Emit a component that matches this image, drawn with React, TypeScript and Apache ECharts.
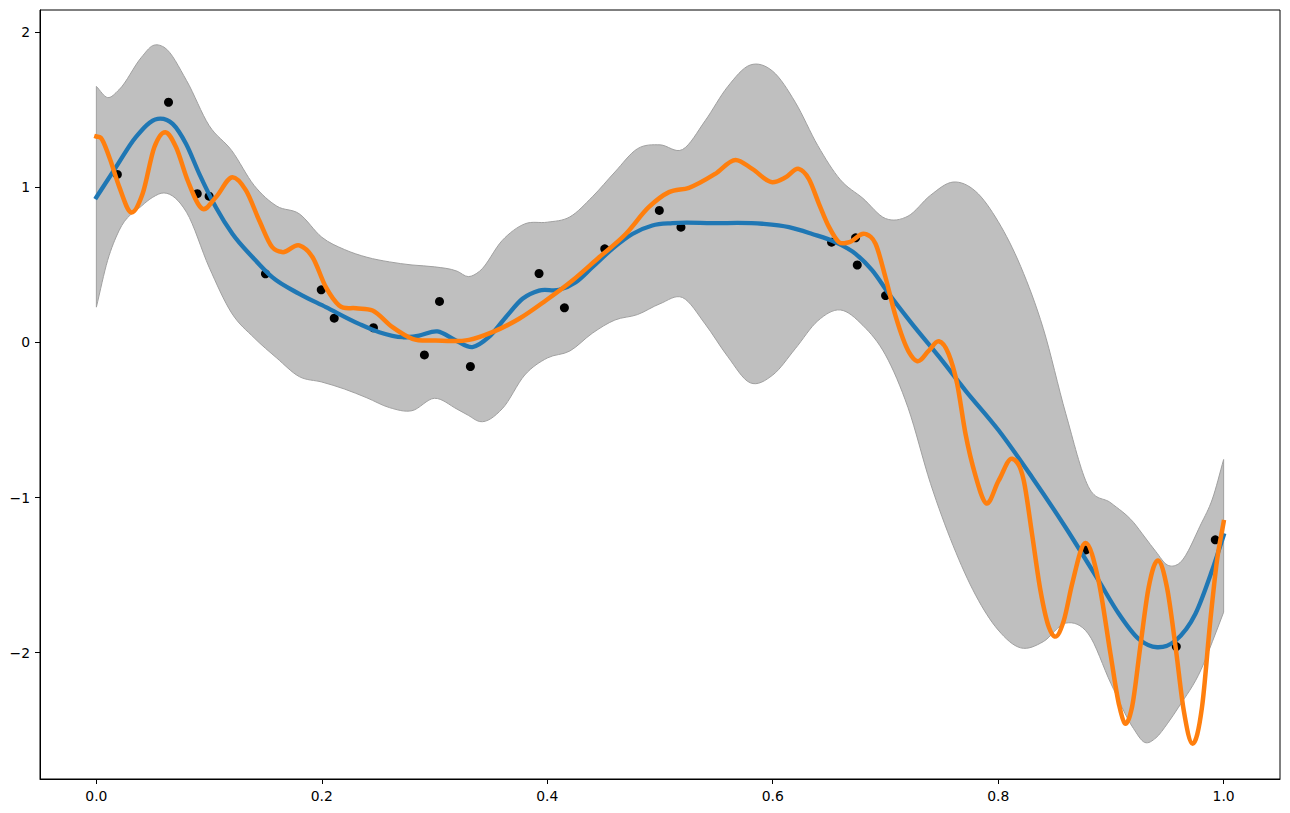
import { useEffect, useRef } from "react";
import * as echarts from "echarts";

// Confidence band sampled on a shared x grid
const bandX = [
  0, 0.01, 0.02, 0.04, 0.05, 0.06, 0.08, 0.1, 0.12, 0.14, 0.16, 0.18, 0.2, 0.22, 0.24, 0.26,
  0.28, 0.3, 0.32, 0.33, 0.34, 0.36, 0.38, 0.4, 0.42, 0.44, 0.46, 0.48, 0.5, 0.52, 0.54, 0.56,
  0.58, 0.6, 0.62, 0.64, 0.66, 0.68, 0.7, 0.72, 0.74, 0.76, 0.78, 0.8, 0.82, 0.84, 0.86, 0.88,
  0.9, 0.92, 0.93, 0.94, 0.95, 0.96, 0.98, 0.99, 1.0,
];
const bandUpper = [
  1.652, 1.58, 1.63, 1.84, 1.915, 1.905, 1.69, 1.4, 1.239, 1.013, 0.88, 0.83, 0.679, 0.6, 0.55, 0.52,
  0.5, 0.488, 0.46, 0.425, 0.46, 0.658, 0.765, 0.776, 0.81, 0.94, 1.1, 1.25, 1.275, 1.245, 1.43, 1.65,
  1.79, 1.75, 1.55, 1.27, 1.05, 0.93, 0.8, 0.815, 0.95, 1.035, 0.975, 0.78, 0.49, 0.09, -0.46, -0.93,
  -1.035, -1.16, -1.255, -1.35, -1.435, -1.428, -1.17, -1.01, -0.755,
];
const bandLower = [
  0.228, 0.53, 0.72, 0.88, 0.937, 0.965, 0.84, 0.486, 0.19, 0.03, -0.1, -0.22, -0.255, -0.3, -0.357, -0.42,
  -0.44, -0.36, -0.43, -0.47, -0.51, -0.428, -0.21, -0.1, -0.055, 0.06, 0.145, 0.18, 0.25, 0.29, 0.12, -0.09,
  -0.26, -0.21, -0.04, 0.14, 0.21, 0.11, -0.08, -0.42, -0.91, -1.31, -1.63, -1.855, -1.97, -1.93, -1.81, -1.88,
  -2.2, -2.49, -2.58, -2.55, -2.46, -2.353, -2.11, -1.93, -1.74,
];

// Posterior mean
const meanX = [
  0, 0.0174, 0.035, 0.0544, 0.0677, 0.0795, 0.0913, 0.106, 0.1208, 0.1386, 0.156, 0.18, 0.2036, 0.233,
  0.251, 0.2715, 0.2863, 0.3026, 0.3189, 0.3336, 0.348, 0.3632, 0.378, 0.3927, 0.4105, 0.4253, 0.44,
  0.4577, 0.4755, 0.4932, 0.511, 0.5464, 0.5907, 0.6144, 0.635, 0.6557, 0.6735, 0.6883, 0.703, 0.7236,
  0.7473, 0.771, 0.8005, 0.83, 0.8597, 0.889, 0.907, 0.9246, 0.941, 0.9573, 0.975, 0.9897, 1.0,
];
const meanY = [
  0.937, 1.131, 1.325, 1.443, 1.41, 1.282, 1.088, 0.873, 0.7, 0.55, 0.421, 0.314, 0.228, 0.12,
  0.066, 0.034, 0.045, 0.071, 0.013, -0.03, 0.034, 0.163, 0.282, 0.335, 0.34, 0.389, 0.486,
  0.604, 0.7, 0.755, 0.77, 0.77, 0.766, 0.744, 0.7, 0.647, 0.572, 0.465, 0.314, 0.12,
  -0.09, -0.31, -0.568, -0.869, -1.192, -1.535, -1.75, -1.912, -1.966, -1.923, -1.75, -1.471, -1.245,
];

// Posterior sample
const sampleX = [
  0, 0.004, 0.0115, 0.0204, 0.0307, 0.041, 0.0514, 0.0612, 0.0707, 0.081, 0.0942, 0.106, 0.1208,
  0.1327, 0.1445, 0.156, 0.165, 0.18, 0.1918, 0.2036, 0.2154, 0.2302, 0.245, 0.2627, 0.2804, 0.301,
  0.3306, 0.3513, 0.375, 0.3987, 0.4223, 0.446, 0.4696, 0.49, 0.508, 0.5257, 0.549, 0.567, 0.5818,
  0.5996, 0.6115, 0.623, 0.632, 0.641, 0.65, 0.6588, 0.6676, 0.6823, 0.6912, 0.7, 0.709, 0.7207,
  0.728, 0.7385, 0.7473, 0.756, 0.7636, 0.771, 0.7799, 0.7893, 0.8005, 0.8124, 0.8227, 0.83, 0.8375,
  0.845, 0.8502, 0.8582, 0.8656, 0.8774, 0.889, 0.8996, 0.907, 0.9122, 0.9187, 0.926, 0.9335, 0.9418,
  0.9497, 0.9574, 0.9646, 0.9725, 0.9808, 0.9882, 0.9941, 1.0,
];
const sampleY = [
  1.329, 1.32, 1.195, 1.002, 0.84, 0.959, 1.26, 1.357, 1.26, 1.045, 0.862, 0.937, 1.066,
  0.981, 0.787, 0.615, 0.583, 0.626, 0.55, 0.357, 0.239, 0.221, 0.206, 0.099, 0.024, 0.013,
  0.017, 0.067, 0.153, 0.271, 0.4, 0.55, 0.7, 0.873, 0.97, 0.998, 1.088, 1.178, 1.12,
  1.034, 1.066, 1.12, 1.056, 0.895, 0.744, 0.647, 0.647, 0.7, 0.637, 0.421, 0.17, -0.06,
  -0.12, -0.052, 0.008, -0.073, -0.266, -0.589, -0.86, -1.037, -0.89, -0.75, -0.89, -1.234, -1.6,
  -1.837, -1.897, -1.794, -1.557, -1.293, -1.535, -2.008, -2.33, -2.456, -2.353, -1.966, -1.579, -1.406,
  -1.579, -1.966, -2.374, -2.589, -2.353, -1.794, -1.406, -1.159,
];

// Observed points
const obsX = [
  0.0186, 0.064, 0.0895, 0.1, 0.15, 0.1995, 0.211, 0.2458, 0.291, 0.3044, 0.3318, 0.3927,
  0.4152, 0.451, 0.4994, 0.5186, 0.6522, 0.6735, 0.675, 0.7001, 0.8777, 0.958, 0.9926,
];
const obsY = [
  1.084, 1.55, 0.96, 0.944, 0.443, 0.34, 0.157, 0.095, -0.08, 0.265, -0.155, 0.445,
  0.224, 0.604, 0.852, 0.744, 0.647, 0.675, 0.5, 0.303, -1.338, -1.962, -1.273,
];

const xTicks = [0, 0.2, 0.4, 0.6, 0.8, 1.0];
const yTicks = [-2, -1, 0, 1, 2];

const FONT = "DejaVu Sans";

type Pt = [number, number];

// Cubic Hermite segments through pixel points (x-ordered, either direction),
// with three-point tangents so uneven spacing stays smooth.
function hermiteSegments(p: Pt[]): string {
  const n = p.length;
  const m: number[] = new Array(n);
  const slope = (i: number) => (p[i + 1][1] - p[i][1]) / (p[i + 1][0] - p[i][0]);
  for (let i = 0; i < n; i++) {
    if (i === 0) m[i] = slope(0);
    else if (i === n - 1) m[i] = slope(n - 2);
    else {
      const h0 = p[i][0] - p[i - 1][0];
      const h1 = p[i + 1][0] - p[i][0];
      m[i] = (slope(i - 1) * h1 + slope(i) * h0) / (h0 + h1);
    }
  }
  let d = "";
  for (let i = 0; i < n - 1; i++) {
    const h = p[i + 1][0] - p[i][0];
    const c1x = p[i][0] + h / 3;
    const c1y = p[i][1] + (m[i] * h) / 3;
    const c2x = p[i + 1][0] - h / 3;
    const c2y = p[i + 1][1] - (m[i + 1] * h) / 3;
    d += ` C${c1x},${c1y} ${c2x},${c2y} ${p[i + 1][0]},${p[i + 1][1]}`;
  }
  return d;
}

function curvePath(p: Pt[]): string {
  return `M${p[0][0]},${p[0][1]}` + hermiteSegments(p);
}

function bandPath(up: Pt[], low: Pt[]): string {
  const rev = low.slice().reverse();
  return (
    `M${up[0][0]},${up[0][1]}` +
    hermiteSegments(up) +
    ` L${rev[0][0]},${rev[0][1]}` +
    hermiteSegments(rev) +
    " Z"
  );
}

export default function App() {
  const ref = useRef<HTMLDivElement>(null);

  useEffect(() => {
    const chart = echarts.init(ref.current!, null, { renderer: "svg" });
    const axisText = { color: "#000", fontSize: 13.9, fontFamily: FONT };

    const toPx = (api: any, xs: number[], ys: number[]): Pt[] =>
      xs.map((x, i) => api.coord([x, ys[i]]) as Pt);

    const curveSeries = (name: string, xs: number[], ys: number[], color: string, width: number, z: number) => ({
      name,
      type: "custom",
      z,
      silent: true,
      clip: true,
      data: [[xs[0], ys[0]]],
      renderItem: (_params: any, api: any) => ({
        type: "path",
        shape: { pathData: curvePath(toPx(api, xs, ys)) },
        style: { fill: "none", stroke: color, lineWidth: width, lineCap: "square", lineJoin: "round" },
      }),
    });

    chart.setOption({
      animation: false,
      backgroundColor: "#fff",
      grid: {
        left: 40,
        top: 10,
        width: 1240,
        height: 769,
        show: true,
        z: 10,
        borderColor: "#000",
        borderWidth: 1,
        backgroundColor: "transparent",
      },
      xAxis: {
        type: "value",
        min: -0.05,
        max: 1.05,
        z: 10,
        axisLine: { show: true, onZero: false, lineStyle: { color: "#000", width: 1 } },
        axisTick: { show: true, customValues: xTicks, length: 5, lineStyle: { color: "#000", width: 1 } },
        axisLabel: {
          ...axisText,
          customValues: xTicks,
          margin: 10,
          formatter: (v: number) => v.toFixed(1),
        },
        splitLine: { show: false },
      },
      yAxis: {
        type: "value",
        min: -2.816,
        max: 2.145,
        z: 10,
        axisLine: { show: true, onZero: false, lineStyle: { color: "#000", width: 1 } },
        axisTick: { show: true, customValues: yTicks, length: 5, lineStyle: { color: "#000", width: 1 } },
        axisLabel: {
          ...axisText,
          customValues: yTicks,
          margin: 10,
          formatter: (v: number) => (v < 0 ? "\u2212" + Math.abs(v) : String(v)),
        },
        splitLine: { show: false },
      },
      series: [
        {
          name: "band",
          type: "custom",
          z: 1,
          silent: true,
          clip: true,
          data: [[bandX[0], bandUpper[0]]],
          renderItem: (_params: any, api: any) => ({
            type: "path",
            shape: { pathData: bandPath(toPx(api, bandX, bandUpper), toPx(api, bandX, bandLower)) },
            style: { fill: "#bfbfbf", stroke: "#a0a0a0", lineWidth: 1 },
          }),
        },
        {
          name: "observations",
          type: "scatter",
          z: 2,
          data: obsX.map((x, i) => [x, obsY[i]]),
          symbolSize: 9,
          itemStyle: { color: "#000", opacity: 1 },
          silent: true,
        },
        curveSeries("mean", meanX, meanY, "#1f77b4", 4.3, 3),
        curveSeries("sample", sampleX, sampleY, "#ff7f0e", 4.5, 4),
      ],
    });
    return () => chart.dispose();
  }, []);

  return (
    <div
      ref={ref}
      style={{ position: "fixed", left: 0, top: 0, width: 1290, height: 813, background: "#fff" }}
    />
  );
}
